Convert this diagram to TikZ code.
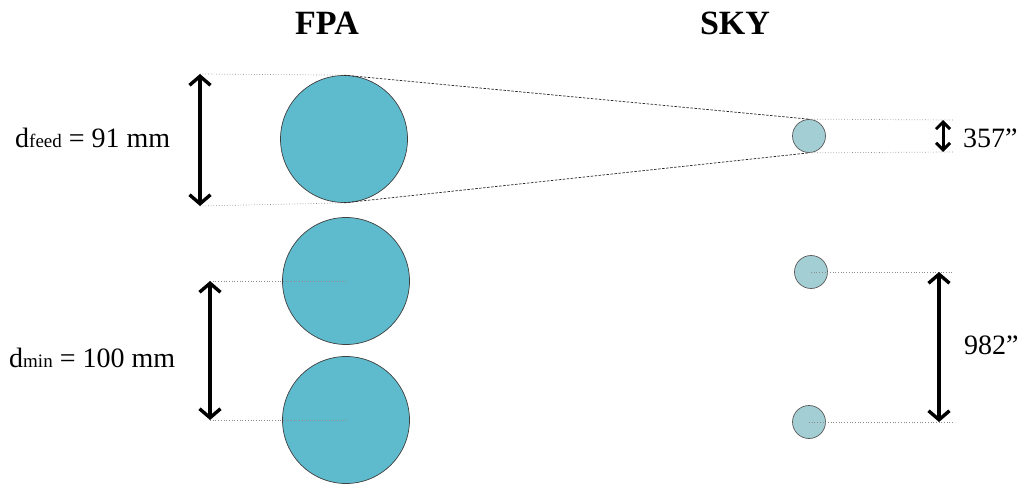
\documentclass[tikz,border=0pt]{standalone}
\usepackage{fontspec}
\setmainfont{Liberation Serif}
\usetikzlibrary{arrows.meta}
\definecolor{fpablue}{RGB}{94,187,206}
\definecolor{skyblue}{RGB}{163,206,212}
\begin{document}
\begin{tikzpicture}[x=1pt,y=-1pt,
 fpa/.style={circle,draw=black!75,line width=0.7pt,fill=fpablue,minimum size=127pt,inner sep=0},
 sky/.style={circle,draw=black!65,line width=0.7pt,fill=skyblue,minimum size=33pt,inner sep=0},
 guide/.style={draw=black!45,dotted,line width=0.7pt},
 ray/.style={draw=black!85,dash pattern=on 2.5pt off 1.5pt,line width=0.7pt},
 dimarrow/.style={line width=3.4pt,{Straight Barb[length=9pt,width=21pt]}-{Straight Barb[length=9pt,width=21pt]}},
 smallarrow/.style={line width=3pt,{Straight Barb[length=7pt,width=14pt]}-{Straight Barb[length=7pt,width=14pt]}},
 lbl/.style={font=\fontsize{28}{30}\selectfont,inner sep=0},
 title/.style={font=\fontsize{34}{36}\selectfont\bfseries,inner sep=0}]
\useasboundingbox (0,0) rectangle (1029,489);

% titles
\node[title] (tfpa) at (327,23) {FPA};
\node[title] (tsky) at (735,23) {SKY};

% FPA feeds
\node[fpa] (f1) at (344,139) {};
\node[fpa] (f2) at (346,281) {};
\node[fpa] (f3) at (346,420) {};

% sky beams
\node[sky] (s1) at (809,136) {};
\node[sky] (s2) at (811,272) {};
\node[sky] (s3) at (809,422) {};

% coordinates for dimension lines
\coordinate (a1t) at (200,74);
\coordinate (a1b) at (200,206);
\coordinate (a2t) at (210,281);
\coordinate (a2b) at (210,420);
\coordinate (r1t) at (953,120);
\coordinate (r1b) at (953,152);
\coordinate (r2t) at (953,272);
\coordinate (r2b) at (953,422);
\coordinate (b1t) at (943,120);
\coordinate (b1b) at (943,152);
\coordinate (b2t) at (939,272);
\coordinate (b2b) at (939,422);

% guides
\draw[guide] (a1t) -- (f1.north);
\draw[guide] (a1b) -- (f1.south);
\draw[guide] (a2t) -- (f2.center);
\draw[guide] (a2b) -- (f3.center);
\draw[guide] (s1.north) -- (r1t);
\draw[guide] (s1.south) -- (r1b);
\draw[guide] (s2.center) -- (r2t);
\draw[guide] (s3.center) -- (r2b);

% projection rays
\draw[ray] (f1.north) -- (s1.north);
\draw[ray] (f1.south) -- (s1.south);

% dimension arrows
\draw[dimarrow] (a1t) -- (a1b);
\draw[dimarrow] (a2t) -- (a2b);
\draw[smallarrow] (b1t) -- (b1b);
\draw[dimarrow] (b2t) -- (b2b);

% labels
\node[lbl,anchor=base west] (lfeed) at (15,148) {d{\fontsize{19}{20}\selectfont feed} = 91 mm};
\node[lbl,anchor=base west] (lmin) at (9,367) {d{\fontsize{19}{20}\selectfont min} = 100 mm};
\node[lbl,anchor=base west] (l357) at (963,148) {357''};
\node[lbl,anchor=base west] (l982) at (964,355) {982''};
\end{tikzpicture}
\end{document}
